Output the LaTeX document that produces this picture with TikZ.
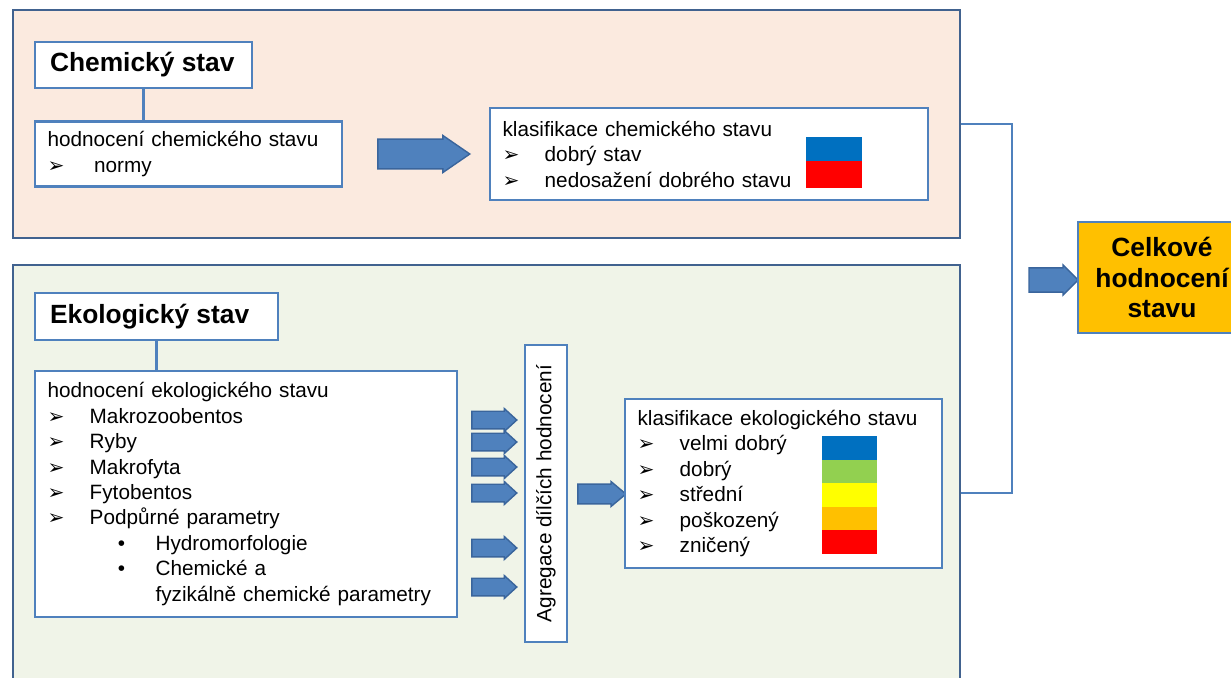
\documentclass[tikz,border=0pt]{standalone}
\usepackage{fontspec}
\setmainfont{Liberation Sans}
\newfontfamily\arrowfont{DejaVu Sans}
\usepackage{xcolor}
\usepackage{tikz}
\usetikzlibrary{shapes,arrows,positioning,calc,shapes.arrows}

\definecolor{panelline}{HTML}{41628F}
\definecolor{boxline}{HTML}{4F81BD}
\definecolor{chemfill}{HTML}{FBEADF}
\definecolor{ecofill}{HTML}{F0F4E8}
\definecolor{arrowfill}{HTML}{4F81BD}
\definecolor{arrowline}{HTML}{3A659C}
\definecolor{gold}{HTML}{FFC000}
\definecolor{scaleblue}{HTML}{0070C0}
\definecolor{scalegreen}{HTML}{92D050}
\definecolor{scaleyellow}{HTML}{FFFF00}
\definecolor{scaleorange}{HTML}{FFC000}
\definecolor{scalered}{HTML}{FF0000}

\newcommand{\arrowmark}{{\arrowfont\fontsize{11.5}{12}\selectfont ➢}}
\newcommand{\arrowitem}[1]{\makebox[24pt][l]{\arrowmark}#1}
\newcommand{\dotitem}[1]{\hspace*{40pt}\makebox[21.5pt][l]{\textbullet}#1}

\begin{document}
\begin{tikzpicture}[x=0.02cm, y=-0.02cm,
    panel/.style={draw=panelline, line width=1.2pt, inner sep=0pt},
    box/.style={draw=boxline, line width=1.3pt, fill=white, inner ysep=0pt,
        font=\fontsize{11.8}{14.5}\selectfont},
    listbox/.style={box, inner xsep=0.25cm, align=left},
    title/.style={draw=boxline, line width=1.3pt, fill=white, inner xsep=0.3cm,
        inner ysep=0pt, font=\fontsize{15}{18}\selectfont\bfseries},
    link/.style={draw=boxline, line width=1.3pt},
    blockarrow/.style={single arrow, draw=arrowline, fill=arrowfill, line width=0.8pt,
        inner xsep=0pt, single arrow head extend=1pt},
    smallarrow/.style={blockarrow, minimum height=0.9cm, minimum width=0.46cm,
        inner ysep=0.1cm, single arrow tip angle=85}]

    \clip (0,0) rectangle (1231,677);

    % Panels
    \node[panel, fill=chemfill, minimum width=18.94cm, minimum height=4.56cm] (chemPanel) at (486.5,124) {};
    \node[panel, fill=ecofill, minimum width=18.94cm, minimum height=9.12cm] (ecoPanel) at (486.5,493) {};

    % Chemical state
    \node[title, minimum height=0.92cm] (chemTitle) at (143.5,65) {\makebox[3.74cm][l]{Chemický stav}};
    \node[listbox, text width=5.64cm, minimum height=1.3cm] (chemEval) at (188.5,154)
        {hodnocení chemického stavu\\ \makebox[26.5pt][l]{\arrowmark}normy};
    \node[listbox, text width=8.26cm, minimum height=1.84cm] (chemClass) at (709,154)
        {klasifikace chemického stavu\\ \arrowitem{dobrý stav}\\ \arrowitem{nedosažení dobrého stavu}};
    \node[blockarrow, minimum height=1.84cm, minimum width=0.74cm, inner ysep=0.13cm,
        single arrow tip angle=69] (chemArrow) at (413,154) {};
    \draw[link] (chemTitle.south) -- (chemTitle.south |- chemEval.north);

    % Chemical scale
    \fill[scaleblue] (806,137) rectangle (862,161);
    \fill[scalered] (806,161) rectangle (862,188);

    % Ecological state
    \node[title, minimum height=0.94cm] (ecoTitle) at (156.5,316.5) {\makebox[4.26cm][l]{Ekologický stav}};
    \node[listbox, text width=7.94cm, minimum height=4.92cm] (ecoEval) at (246,494)
        {hodnocení ekologického stavu\\
         \arrowitem{Makrozoobentos}\\
         \arrowitem{Ryby}\\
         \arrowitem{Makrofyta}\\
         \arrowitem{Fytobentos}\\
         \arrowitem{Podpůrné parametry}\\
         \dotitem{Hydromorfologie}\\
         \dotitem{Chemické a}\\
         \hspace*{61.5pt}fyzikálně chemické parametry};
    \draw[link] (ecoTitle.south) -- (ecoTitle.south |- ecoEval.north);

    \foreach \yy [count=\i] in {420,442,467,493,548,587}
        \node[smallarrow] (ecoArrow\i) at (489.5,\yy) {};

    \node[box, rotate=90, minimum width=5.94cm, minimum height=0.84cm, inner xsep=0pt] (aggreg) at (546,493.5)
        {Agregace dílčích hodnocení};
    \node[blockarrow, minimum height=0.96cm, minimum width=0.5cm, inner ysep=0.12cm,
        single arrow tip angle=80] (aggArrow) at (596,494) {};

    \node[listbox, text width=5.84cm, minimum height=3.38cm] (ecoClass) at (783.5,483.5)
        {klasifikace ekologického stavu\\
         \arrowitem{velmi dobrý}\\
         \arrowitem{dobrý}\\
         \arrowitem{střední}\\
         \arrowitem{poškozený}\\
         \arrowitem{zničený}};

    % Ecological scale
    \foreach \c [count=\i from 0] in {scaleblue,scalegreen,scaleyellow,scaleorange,scalered}
        \fill[\c] (822,{436+23.6*\i}) rectangle (877,{459.6+23.6*\i});

    % Overall
    \draw[link] (chemPanel.east) -- ++(51,0) |- (ecoPanel.east);
    \node[blockarrow, minimum height=0.98cm, minimum width=0.6cm, inner ysep=0.13cm,
        single arrow tip angle=90] (totalArrow) at (1047.5,280) {};
    \node[box, fill=gold, minimum width=3.36cm, minimum height=2.22cm, align=center,
        font=\fontsize{15}{17.5}\selectfont\bfseries] (total) at (1162,277.5) {Celkové\\hodnocení\\stavu};

\end{tikzpicture}
\end{document}
